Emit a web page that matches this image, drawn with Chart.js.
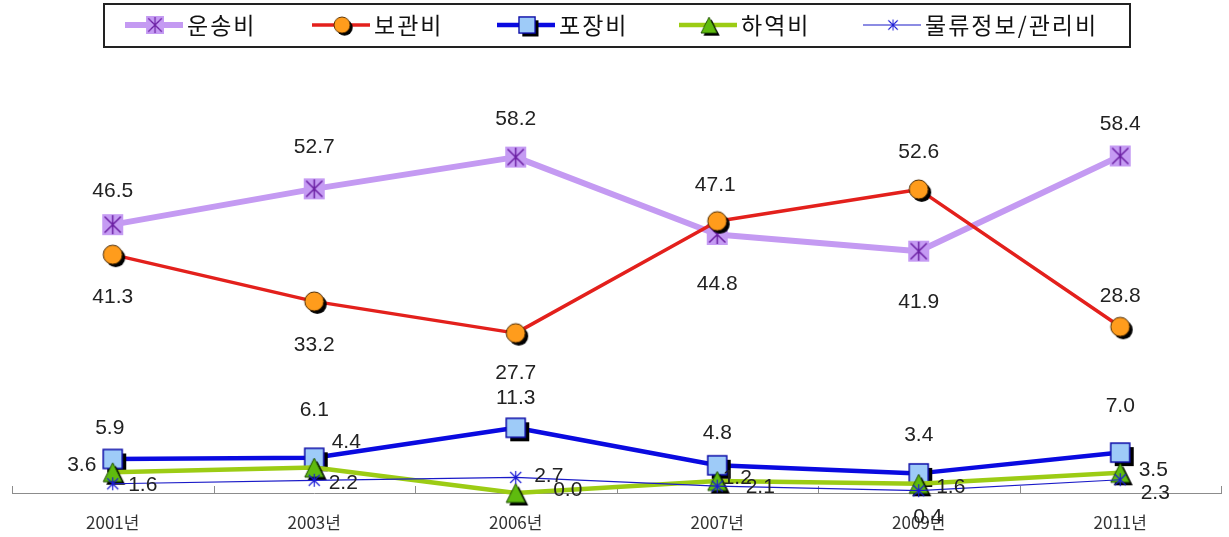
<!DOCTYPE html>
<html>
<head>
<meta charset="utf-8">
<script src="https://cdn.jsdelivr.net/npm/chart.js@4.4.1/dist/chart.umd.min.js"></script>
<style>
    html, body { margin: 0; padding: 0; background: #fff; }
</style>
</head>
<body>
<canvas id="costChart" width="1229" height="537"></canvas>
<script>
// 물류비 구성비 (%)
const years = ['2001년', '2003년', '2006년', '2007년', '2009년', '2011년'];
const transport = [46.5, 52.7, 58.2, 44.8, 41.9, 58.4];   // 운송비
const storage   = [41.3, 33.2, 27.7, 47.1, 52.6, 28.8];   // 보관비
const packaging = [5.9, 6.1, 11.3, 4.8, 3.4, 7.0];        // 포장비
const handling  = [3.6, 4.4, 0.0, 2.1, 1.6, 3.5];         // 하역비
const infoMgmt  = [1.6, 2.2, 2.7, 1.2, 0.4, 2.3];         // 물류정보/관리비

// where each value label sits relative to its point [dx, dy]
const labelOffsets = [
    [[0, -33], [0, -42], [0, -38], [0, 50], [0, 51], [0, -32]],
    [[0, 43], [0, 44], [0, 40], [-2, -36], [0, -37], [0, -31]],
    [[-3, -31], [0, -48], [0, -30], [0, -32], [0, -38], [0, -46]],
    [[-31, -7], [32, -25], [52, -3], [43, 6], [32, 3], [33, -3]],
    [[30, 1], [29, 3], [33, -1], [20, -8], [9, 27], [35, 13]]
];

// marker images, drawn once on small canvases
function makeMarker(kind, s) {
    const pad = 6;
    const c = document.createElement('canvas');
    c.width = c.height = s + pad * 2;
    const g = c.getContext('2d');
    const m = c.width / 2, h = s / 2;

    function star(color, r, lw) {
        g.strokeStyle = color;
        g.lineWidth = lw;
        g.beginPath();
        g.moveTo(m, m - r); g.lineTo(m, m + r);
        g.moveTo(m - r * 0.85, m - r * 0.85); g.lineTo(m + r * 0.85, m + r * 0.85);
        g.moveTo(m + r * 0.85, m - r * 0.85); g.lineTo(m - r * 0.85, m + r * 0.85);
        g.stroke();
    }
    function tri(ox, oy) {
        g.beginPath();
        g.moveTo(m + ox, m - h + oy);
        g.lineTo(m + h + ox, m + h + oy);
        g.lineTo(m - h + ox, m + h + oy);
        g.closePath();
    }

    if (kind === 'purpleSquare') {
        g.fillStyle = '#c59bf3';
        g.fillRect(m - h, m - h, s, s);
        star('#6b1fa3', h - 1, 1.5);
    } else if (kind === 'orangeCircle') {
        g.fillStyle = '#000';
        g.beginPath(); g.arc(m + 3, m + 3, h, 0, Math.PI * 2); g.fill();
        g.fillStyle = '#ff9c1c';
        g.strokeStyle = '#4a2800';
        g.lineWidth = 1;
        g.beginPath(); g.arc(m, m, h, 0, Math.PI * 2); g.fill(); g.stroke();
    } else if (kind === 'blueSquare') {
        g.fillStyle = '#000';
        g.fillRect(m - h + 4, m - h + 4, s, s);
        g.fillStyle = '#9ecbf8';
        g.fillRect(m - h, m - h, s, s);
        g.strokeStyle = '#0b0ba8';
        g.lineWidth = 1.5;
        g.strokeRect(m - h, m - h, s, s);
    } else if (kind === 'greenTriangle') {
        g.fillStyle = '#000';
        tri(3, 3); g.fill();
        g.fillStyle = '#5fbb0e';
        g.strokeStyle = '#1b4a00';
        g.lineWidth = 1;
        tri(0, 0); g.fill(); g.stroke();
    } else if (kind === 'blueStar') {
        star('#1a1ad6', h, 1.2);
    }
    return c;
}

const markers = [
    makeMarker('purpleSquare', 21),
    makeMarker('orangeCircle', 19),
    makeMarker('blueSquare', 19),
    makeMarker('greenTriangle', 19),
    makeMarker('blueStar', 13)
];

// little upward ticks on the category axis
const axisTicks = {
    id: 'axisTicks',
    beforeDatasetsDraw(chart) {
        const {ctx, chartArea, scales: {x}} = chart;
        const n = years.length;
        const w = (x.right - x.left) / n;
        ctx.save();
        ctx.strokeStyle = '#8c8c8c';
        ctx.lineWidth = 1;
        ctx.beginPath();
        for (let i = 0; i <= n; i++) {
            const px = Math.round(x.left + i * w) + 0.5;
            ctx.moveTo(px, chartArea.bottom);
            ctx.lineTo(px, chartArea.bottom - 7);
        }
        ctx.stroke();
        ctx.restore();
    }
};

const valueLabels = {
    id: 'valueLabels',
    afterDatasetsDraw(chart) {
        const ctx = chart.ctx;
        ctx.save();
        ctx.font = '21px "Liberation Sans"';
        ctx.fillStyle = '#222';
        ctx.textAlign = 'center';
        ctx.textBaseline = 'middle';
        chart.data.datasets.forEach((ds, i) => {
            const meta = chart.getDatasetMeta(i);
            meta.data.forEach((pt, j) => {
                const off = labelOffsets[i][j];
                ctx.fillText(ds.data[j].toFixed(1), pt.x + off[0], pt.y + off[1]);
            });
        });
        ctx.restore();
    }
};

// boxed legend at the top, line + marker + name
const boxLegend = {
    id: 'boxLegend',
    afterDraw(chart) {
        const ctx = chart.ctx;
        const starts = [125, 312, 497, 679, 863];
        ctx.save();
        ctx.strokeStyle = '#222';
        ctx.lineWidth = 2;
        ctx.strokeRect(104, 4, 1026, 43);
        chart.data.datasets.forEach((ds, i) => {
            const x0 = starts[i], y = 25;
            ctx.strokeStyle = ds.borderColor;
            ctx.lineWidth = ds.borderWidth;
            ctx.beginPath();
            ctx.moveTo(x0, y);
            ctx.lineTo(x0 + 58, y);
            ctx.stroke();
            const img = ds.pointStyle;
            const k = 0.85;
            ctx.drawImage(img, x0 + 30 - img.width * k / 2, y - img.height * k / 2, img.width * k, img.height * k);
            ctx.fillStyle = '#111';
            ctx.font = '23px "Noto Sans CJK KR"';
            ctx.letterSpacing = '2px';
            ctx.textAlign = 'left';
            ctx.textBaseline = 'middle';
            ctx.fillText(ds.label, x0 + 62, y);
        });
        ctx.restore();
    }
};

const seriesNames = ['운송비', '보관비', '포장비', '하역비', '물류정보/관리비'];
const seriesData = [transport, storage, packaging, handling, infoMgmt];
const lineColors = ['#c49af2', '#e3201c', '#0a0ae0', '#9ccc14', '#1a1ac8'];
const lineWidths = [6, 3.5, 4.5, 4.5, 1.2];

const ctx = document.getElementById('costChart').getContext('2d');
new Chart(ctx, {
    type: 'line',
    data: {
        labels: years,
        datasets: seriesNames.map((name, i) => ({
            label: name,
            data: seriesData[i],
            borderColor: lineColors[i],
            borderWidth: lineWidths[i],
            pointStyle: markers[i],
            pointRadius: 10,
            pointHoverRadius: 10,
            tension: 0,
            fill: false,
            clip: false,
            borderJoinStyle: 'round',
            order: seriesNames.length - i
        }))
    },
    options: {
        responsive: false,
        animation: false,
        events: [],
        layout: { autoPadding: false, padding: { left: 12, right: 8, top: 89, bottom: 0 } },
        plugins: {
            legend: { display: false },
            tooltip: { enabled: false }
        },
        scales: {
            x: {
                offset: true,
                grid: { display: false, drawTicks: false },
                border: { display: true, color: '#8c8c8c', width: 1 },
                ticks: {
                    color: '#333',
                    padding: 19,
                    font: { family: 'Noto Sans CJK KR', size: 17 }
                },
                afterFit(scale) { scale.height = 44; }
            },
            y: {
                display: false,
                min: 0,
                max: 70
            }
        }
    },
    plugins: [axisTicks, valueLabels, boxLegend]
});
</script>
</body>
</html>
